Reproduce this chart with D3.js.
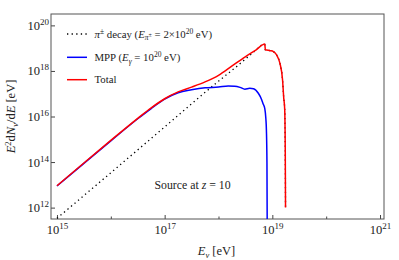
<!DOCTYPE html>
<html>
<head>
<meta charset="utf-8">
<script src="https://d3js.org/d3.v7.min.js"></script>
<style>
  body { margin: 0; background: #fff; }
  text { font-family: "Liberation Serif", "Times New Roman", serif; fill: #222; }
</style>
</head>
<body>
<svg id="vis"></svg>
<script>
  // values: log10(E [eV]) and log10(E^2 dN/dE [eV])
  pionLogE = [15.0, 16.0, 17.0, 18.0, 18.34, 18.6, 18.86, 18.87, 18.96, 19.02, 19.08, 19.14, 19.19, 19.21, 19.23, 19.24, 19.245]
  pionLogF = [11.53, 13.53, 15.54, 17.55, 18.2, 18.72, 19.17, 18.92, 18.89, 18.85, 18.70, 18.34, 17.60, 16.87, 16.29, 14.5, 12.0]

  mppLogE = [15.0, 15.5, 16.0, 16.5, 16.75, 17.0, 17.25, 17.5, 17.75, 18.0, 18.18, 18.3, 18.4, 18.49, 18.58, 18.65, 18.74, 18.8, 18.83, 18.86, 18.88, 18.89, 18.9, 18.905]
  mppLogF = [12.95, 13.94, 14.93, 15.9, 16.35, 16.76, 17.04, 17.17, 17.26, 17.29, 17.34, 17.33, 17.28, 17.2, 17.24, 17.22, 17.02, 16.75, 16.55, 16.35, 15.9, 15.4, 14.0, 11.0]

  totalLogE = [15.0, 15.5, 16.0, 16.5, 16.75, 17.0, 17.25, 17.5, 17.75, 18.0, 18.24, 18.49, 18.7, 18.86, 18.87, 18.96, 19.02, 19.08, 19.14, 19.19, 19.21, 19.23, 19.24, 19.245]
  totalLogF = [12.96, 13.96, 14.95, 15.92, 16.38, 16.78, 17.08, 17.29, 17.52, 17.81, 18.2, 18.61, 18.93, 19.18, 18.93, 18.89, 18.85, 18.70, 18.34, 17.60, 16.87, 16.29, 14.5, 12.0]

  xMajor = [1e15, 1e17, 1e19, 1e21]
  xMinor = [1e16, 1e18, 1e20]
  yMajor = [1e12, 1e14, 1e16, 1e18, 1e20]

  var W = 399, H = 260
  var fx0 = 51, fx1 = 384, fy0 = 14, fy1 = 219   // plot frame

  var svg = d3.select('#vis')
      .attr('width', W)
      .attr('height', H)

  var x = d3.scaleLog()
    .domain([Math.pow(10, 14.889), Math.pow(10, 21.074)])
    .range([fx0, fx1])
  var y = d3.scaleLog()
    .domain([Math.pow(10, 11.5), Math.pow(10, 20.5)])
    .range([fy1, fy0])

  // write text made of pieces (italic, super/subscripts)
  function rich(sel, parts, size) {
    var cur = 0
    parts.forEach(function(p) {
      var s = p.shift || 0
      var t = sel.append('tspan')
        .text(p.t)
        .style('font-size', (p.size || size) + 'px')
      if (s !== cur) t.attr('dy', s - cur)
      if (p.i) t.style('font-style', 'italic')
      cur = s
    })
  }

  function powerLabel(sel, size) {
    sel.each(function(d) {
      var e = Math.round(Math.log10(d))
      var t = d3.select(this).text(null)
      rich(t, [{t: '10'}, {t: String(e), size: size * 0.72, shift: -size * 0.4}], size)
    })
  }

  // clip for curves
  svg.append('clipPath').attr('id', 'clip')
    .append('rect')
    .attr('x', fx0).attr('y', fy0)
    .attr('width', fx1 - fx0).attr('height', fy1 - fy0)

  // axes
  var xAxis = svg.append('g')
    .attr('transform', 'translate(0,' + fy1 + ')')
    .call(d3.axisBottom(x).tickValues(xMajor).tickSizeInner(-4).tickSizeOuter(0).tickPadding(6))
  xAxis.select('.domain').remove()
  xAxis.selectAll('.tick text').attr('dy', null).attr('y', 14.5).call(powerLabel, 12.5)

  var xAxisMinor = svg.append('g')
    .attr('transform', 'translate(0,' + fy1 + ')')
    .call(d3.axisBottom(x).tickValues(xMinor).tickSizeInner(-2.5).tickSizeOuter(0).tickFormat(''))
  xAxisMinor.select('.domain').remove()

  var yAxis = svg.append('g')
    .attr('transform', 'translate(' + fx0 + ',0)')
    .call(d3.axisLeft(y).tickValues(yMajor).tickSizeInner(-4).tickSizeOuter(0).tickPadding(2))
  yAxis.select('.domain').remove()
  yAxis.selectAll('.tick text').attr('dy', null).attr('y', 4).call(powerLabel, 12.5)

  svg.selectAll('.tick line').attr('stroke', '#444')
  svg.selectAll('.tick text').attr('fill', '#222')

  // frame
  svg.append('rect')
    .attr('x', fx0).attr('y', fy0)
    .attr('width', fx1 - fx0).attr('height', fy1 - fy0)
    .attr('fill', 'none')
    .attr('stroke', '#555')
    .attr('stroke-width', 1)

  // curves
  var line = d3.line()
    .x(function(d) { return x(Math.pow(10, d[0])) })
    .y(function(d) { return y(Math.pow(10, d[1])) })
    .curve(d3.curveMonotoneX)

  var curves = svg.append('g').attr('clip-path', 'url(#clip)')

  curves.append('path')
    .datum(d3.zip(pionLogE, pionLogF))
    .attr('d', line)
    .attr('fill', 'none')
    .attr('stroke', '#000')
    .attr('stroke-width', 1.3)
    .attr('stroke-dasharray', '1.3,3.3')

  curves.append('path')
    .datum(d3.zip(mppLogE, mppLogF))
    .attr('d', line)
    .attr('fill', 'none')
    .attr('stroke', '#0000ff')
    .attr('stroke-width', 1.5)

  curves.append('path')
    .datum(d3.zip(totalLogE, totalLogF))
    .attr('d', line)
    .attr('fill', 'none')
    .attr('stroke', '#ff0000')
    .attr('stroke-width', 1.5)

  // legend
  var legend = [
    {dash: '1.3,3.3', color: '#000', w: 1.3, y: 34,
      parts: [{t: 'π', i: true}, {t: '±', size: 7.5, shift: -4}, {t: ' decay ('}, {t: 'E', i: true},
        {t: 'π', i: true, size: 7.5, shift: 2.5}, {t: '±', size: 6, shift: -0.5}, {t: ' = 2×10'},
        {t: '20', size: 7.5, shift: -4}, {t: ' eV)'}]},
    {dash: null, color: '#0000ff', w: 1.5, y: 57.3,
      parts: [{t: 'MPP ('}, {t: 'E', i: true}, {t: 'γ', i: true, size: 7.5, shift: 2.5}, {t: ' = 10'},
        {t: '20', size: 7.5, shift: -4}, {t: ' eV)'}]},
    {dash: null, color: '#ff0000', w: 1.5, y: 79.7,
      parts: [{t: 'Total'}]}
  ]

  legend.forEach(function(l) {
    svg.append('line')
      .attr('x1', 67).attr('x2', 87)
      .attr('y1', l.y).attr('y2', l.y)
      .attr('stroke', l.color)
      .attr('stroke-width', l.w)
      .attr('stroke-dasharray', l.dash)
    var t = svg.append('text').attr('x', 94.5).attr('y', l.y + 3.7)
    rich(t, l.parts, 10.8)
  })

  // annotation
  var src = svg.append('text').attr('x', 154.5).attr('y', 188.5)
  rich(src, [{t: 'Source at '}, {t: 'z', i: true}, {t: ' = 10'}], 11.8)

  // axis titles
  var xt = svg.append('text')
    .attr('x', (fx0 + fx1) / 2 - 1).attr('y', 255)
    .attr('text-anchor', 'middle')
  rich(xt, [{t: 'E', i: true}, {t: 'ν', i: true, size: 8.5, shift: 2.5}, {t: ' [eV]'}], 12.5)

  var yt = svg.append('text')
    .attr('transform', 'translate(15,' + ((fy0 + fy1) / 2) + ') rotate(-90)')
    .attr('text-anchor', 'middle')
  rich(yt, [{t: 'E', i: true}, {t: '2', size: 8.5, shift: -4.5}, {t: 'd'}, {t: 'N', i: true},
    {t: 'ν', i: true, size: 8.5, shift: 2.5}, {t: '/d'}, {t: 'E', i: true}, {t: ' [eV]'}], 12.5)
</script>
</body>
</html>
